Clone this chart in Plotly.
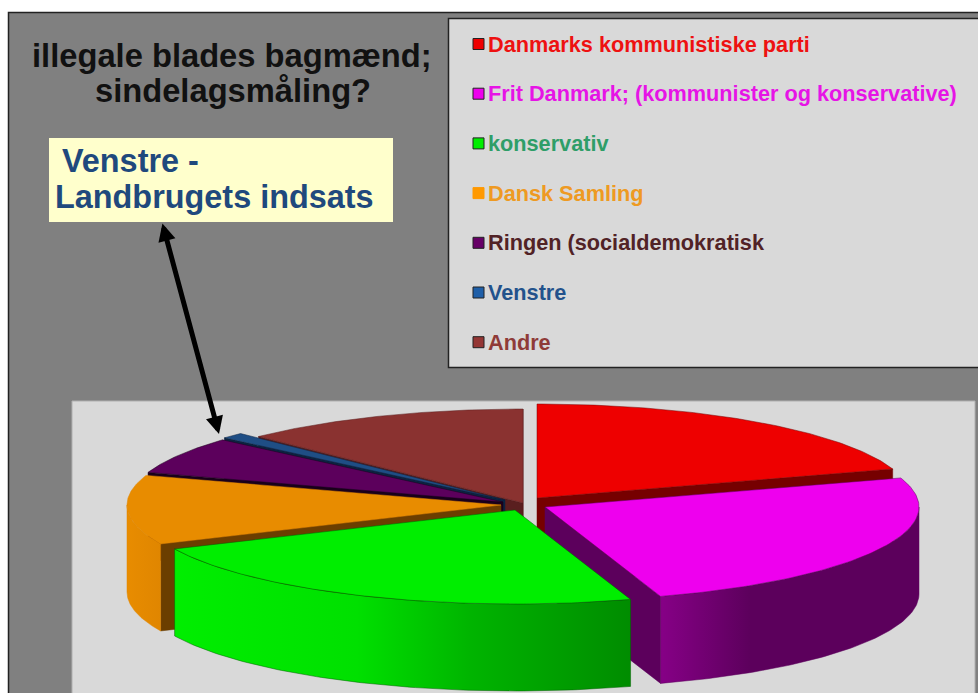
import math
import plotly.graph_objects as go

# ---- data (percent) ----
categories = ["Danmarks kommunistiske parti", "Frit Danmark; (kommunister og konservative)",
              "konservativ", "Dansk Samling", "Ringen (socialdemokratisk", "Venstre", "Andre"]
values = [20.0, 25.0, 23.2, 11.9, 6.4, 1.0, 12.5]

# ---- styles ----
top_colors = ["#ee0000", "#ee00ee", "#00ee00", "#e88c00", "#5c005c", "#1f4e85", "#8a3230"]
face_colors = ["#760000", "#5c005c", "#008000", "#6b3e00", "#1a001a", "#0c2340", "#5a1f1f"]
outline_colors = ["#760000", "#5c005c", "#006000", "#e08600", "#1a001a", "#0c2340", "#5a1f1f"]
wall_scales = [
    [[0, "#a00000"], [1, "#a00000"]],
    [[0, "#860086"], [0.35, "#5c005c"], [1, "#5c005c"]],
    [[0, "#00ee00"], [0.4, "#00e000"], [0.65, "#00b400"], [1, "#008c00"]],
    [[0, "#e88c00"], [1, "#e08600"]],
    [[0, "#5c005c"], [1, "#5c005c"]],
    [[0, "#1f4e85"], [1, "#1f4e85"]],
    [[0, "#8a3230"], [1, "#8a3230"]],
]
text_colors = ["#ee1111", "#e614e6", "#2f9e68", "#ee9a22", "#512226", "#23528c", "#8f3b38"]
swatch_colors = ["#ee0000", "#ee00ee", "#00ee00", "#ff9900", "#660066", "#1f5fa8", "#943634"]
# pie layout (pixel-based axes)
RX, RY, DEPTH = 374, 94, 87
apex = [(537, 498), (545, 507), (515, 510), (501, 505), (503, 502), (505, 500), (523, 503)]
draw_order = [6, 5, 4, 3, 0, 1, 2]
FONT = "Liberation Sans, Arial, sans-serif"

fig = go.Figure()


def arc(cx, cy, a0, a1, dy=0, n=90):
    return [(cx + RX * math.sin(math.radians(a0 + (a1 - a0) * i / n)),
             cy + dy - RY * math.cos(math.radians(a0 + (a1 - a0) * i / n))) for i in range(n + 1)]


def poly(pts, **kw):
    fig.add_trace(go.Scatter(x=[p[0] for p in pts] + [pts[0][0]], y=[p[1] for p in pts] + [pts[0][1]],
                             mode="lines", fill="toself", hoverinfo="skip", showlegend=False, **kw))


total = sum(values)
starts, c = [], 0.0
for v in values:
    starts.append(c)
    c += v / total * 360

for i in draw_order:
    s = starts[i]
    e = s + values[i] / total * 360
    cx, cy = apex[i]
    # radial cut faces that look towards the viewer
    for ang, visible in ((s, math.sin(math.radians(s)) < 0), (e, math.sin(math.radians(e)) > 0)):
        if visible:
            p = arc(cx, cy, ang, ang, n=1)[0]
            poly([(cx, cy), p, (p[0], p[1] + DEPTH), (cx, cy + DEPTH)],
                 fillcolor=face_colors[i], line=dict(color=face_colors[i], width=0.5))
    # outer wall
    w0, w1 = max(s, 90), min(e, 270)
    if w1 > w0:
        pts = arc(cx, cy, w0, w1) + arc(cx, cy, w1, w0, dy=DEPTH)
        poly(pts, fillgradient=dict(type="horizontal", colorscale=wall_scales[i]),
             line=dict(color=outline_colors[i], width=0.5))
    # top face
    poly([(cx, cy)] + arc(cx, cy, s, e), fillcolor=top_colors[i], line=dict(color=outline_colors[i], width=0.5))

# legend
LEG_Y0, LEG_STEP = 44, 49.7
leg_y = [LEG_Y0 + k * LEG_STEP for k in range(len(categories))]
fig.add_trace(go.Scatter(x=[478.5] * len(categories), y=leg_y, mode="markers", hoverinfo="skip", showlegend=False,
                         marker=dict(symbol="square", size=11, color=swatch_colors,
                                     line=dict(color=["#222"] * 3 + ["#ff9900"] + ["#222"] * 3, width=1))))
annotations = [dict(x=486, y=y, text=f"<b>{c}</b>", showarrow=False, xanchor="left", yanchor="middle",
                    font=dict(family=FONT, size=21.7, color=col))
               for c, y, col in zip(categories, leg_y, text_colors)]
annotations += [
    dict(x=232, y=55, text="<b>illegale blades bagmænd;</b>", showarrow=False, font=dict(family=FONT, size=32.7, color="#111111")),
    dict(x=233, y=90, text="<b>sindelagsmåling?</b>", showarrow=False, font=dict(family=FONT, size=32.7, color="#111111")),
    dict(x=60, y=161, text="<b>Venstre -</b>", showarrow=False, xanchor="left", font=dict(family=FONT, size=32.4, color="#1f497d")),
    dict(x=53, y=197, text="<b>Landbrugets indsats</b>", showarrow=False, xanchor="left", font=dict(family=FONT, size=32.4, color="#1f497d")),
    dict(x=219, y=434, ax=162, ay=222, xref="x", yref="y", axref="x", ayref="y", text="", showarrow=True,
         arrowhead=2, arrowside="end+start", arrowwidth=5, arrowsize=0.7, arrowcolor="#000000"),
]

shapes = [
    dict(type="rect", x0=8.5, y0=12.5, x1=990, y1=700, fillcolor="#808080", line=dict(color="#222222", width=1.5)),
    dict(type="rect", x0=72, y0=401, x1=975, y1=700, fillcolor="#d9d9d9", line=dict(color="#b0b0b0", width=1)),
    dict(type="rect", x0=448.5, y0=18.5, x1=990, y1=367.5, fillcolor="#d9d9d9", line=dict(color="#222222", width=1.5)),
    dict(type="rect", x0=49, y0=138, x1=393, y1=222, fillcolor="#ffffcc", line=dict(width=0)),
]
for s in shapes:
    s["layer"] = "below"

fig.update_layout(
    width=978, height=693, margin=dict(l=0, r=0, t=0, b=0), autosize=False,
    paper_bgcolor="#ffffff", plot_bgcolor="#ffffff", showlegend=False,
    xaxis=dict(range=[0, 978], visible=False, fixedrange=True),
    yaxis=dict(range=[693, 0], visible=False, fixedrange=True),
    shapes=shapes, annotations=annotations,
)
fig.write_html("out.html", config={"displayModeBar": False},
               post_script="document.body.style.margin='0';document.body.style.overflow='hidden';")
